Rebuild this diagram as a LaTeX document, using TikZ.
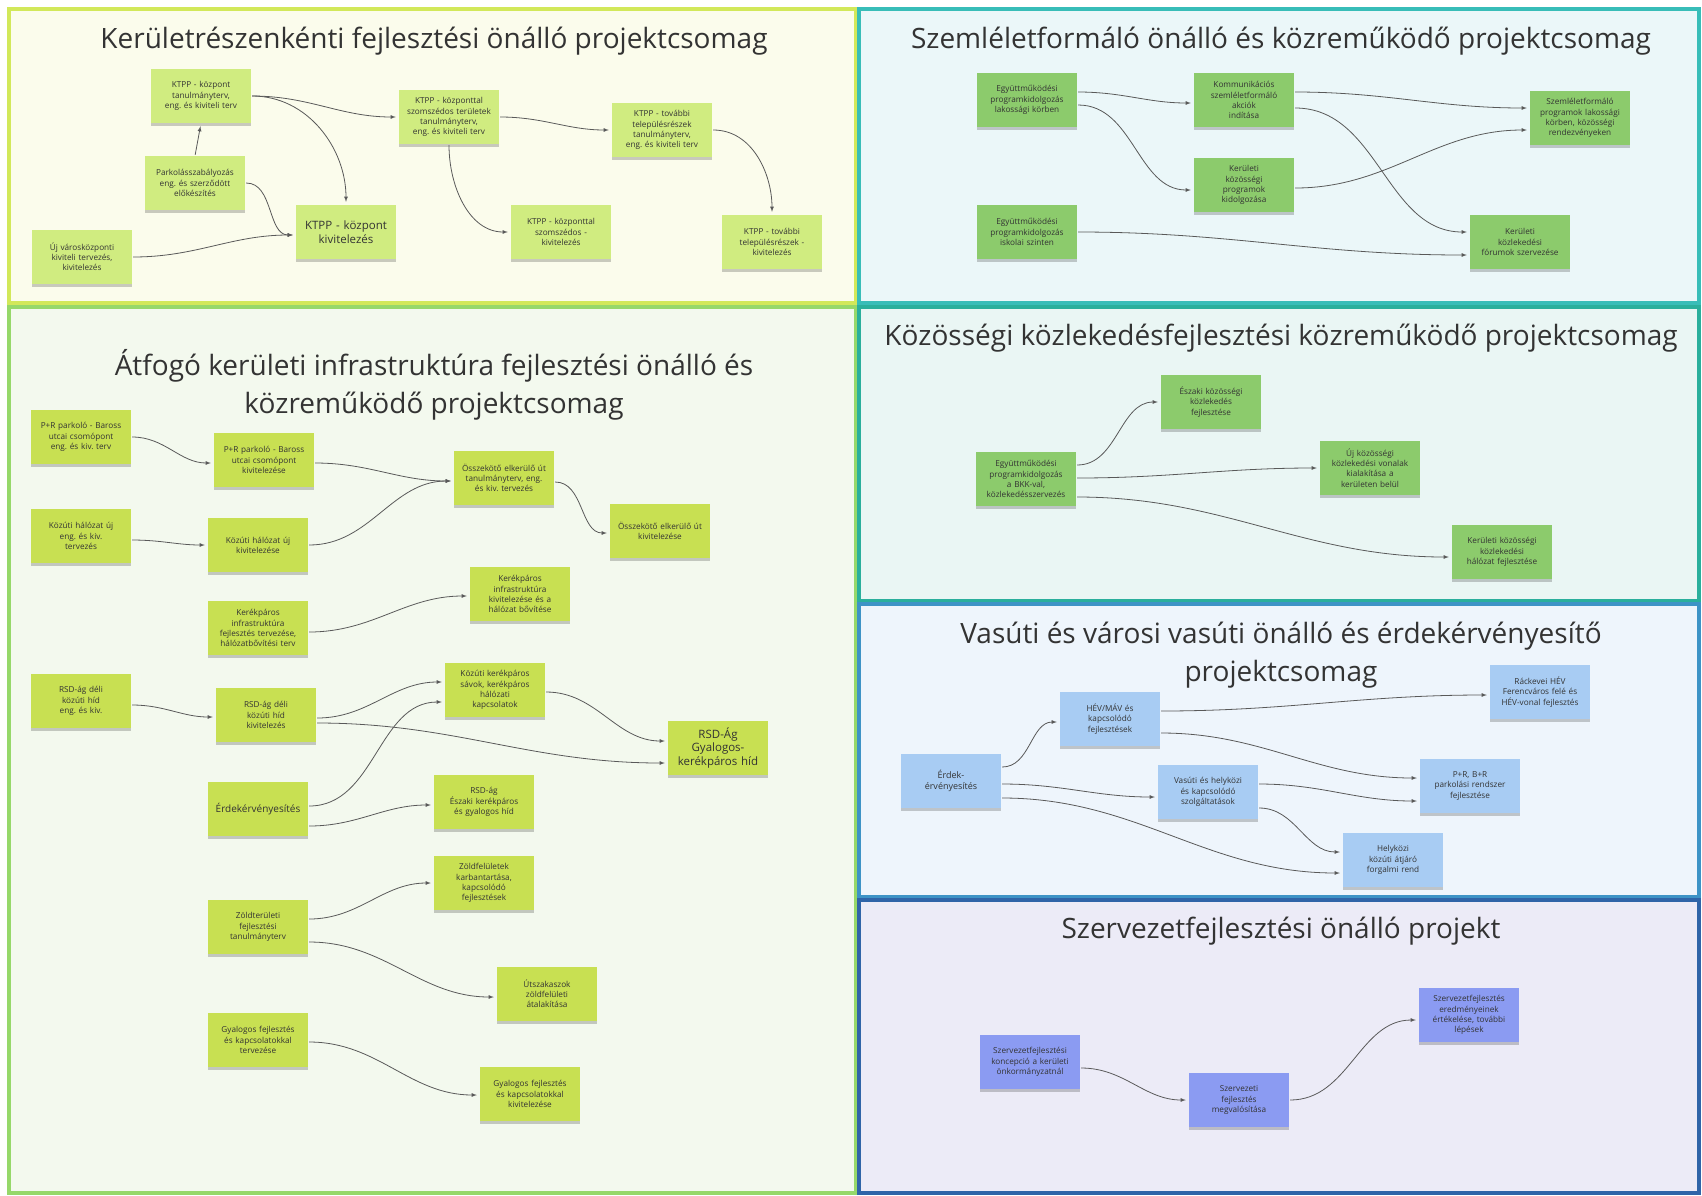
\documentclass[tikz,border=0pt]{standalone}
\usepackage{fontspec}
\setmainfont{Open Sans}
\usetikzlibrary{shadows}
\frenchspacing

%% panel colours
\definecolor{tlfill}{HTML}{FBFCEC}
\definecolor{tlline}{HTML}{D2E85A}
\definecolor{trfill}{HTML}{EBF7F9}
\definecolor{trline}{HTML}{38BDB8}
\definecolor{lfill}{HTML}{F3F9EE}
\definecolor{lline}{HTML}{96D86A}
\definecolor{kfill}{HTML}{EAF6F4}
\definecolor{kline}{HTML}{2AAF9C}
\definecolor{vfill}{HTML}{EEF5FC}
\definecolor{vline}{HTML}{3D93C6}
\definecolor{sfill}{HTML}{ECEBF7}
\definecolor{sline}{HTML}{2F64A8}
%% note colours
\definecolor{tlnote}{HTML}{D0EC80}
\definecolor{lnote}{HTML}{C8E052}
\definecolor{gnote}{HTML}{8CCB6C}
\definecolor{vnote}{HTML}{A8CCF3}
\definecolor{snote}{HTML}{8B9BF2}

\begin{document}
\begin{tikzpicture}[>=latex, x=1pt, y=1pt,
    panel/.style={line width=3.5pt},
    ptitle/.style={font=\fontsize{28}{38}\selectfont, text=black!80, align=center},
    note/.style={rectangle, minimum width=100pt, minimum height=54pt,
        text width=96pt, align=center, inner sep=2pt, text=black!80,
        font=\fontsize{8.2}{10.2}\selectfont,
        drop shadow={shadow xshift=0pt, shadow yshift=-2.5pt, fill=black, opacity=0.2}},
    mid/.style={font=\fontsize{9}{11}\selectfont},
    big/.style={font=\fontsize{11.5}{13.5}\selectfont},
    conn/.style={->, draw=black!65, line width=0.8pt, shorten >=3pt, shorten <=1pt}]

    \useasboundingbox[fill=white] (0,0) rectangle (1702,-1195);

    %% keretek
    \draw[panel, fill=tlfill, draw=tlline] (9,-9) rectangle (856,-303);
    \draw[panel, fill=trfill, draw=trline] (859,-9) rectangle (1699,-303);
    \draw[panel, fill=lfill, draw=lline] (9,-307) rectangle (856,-1193);
    \draw[panel, fill=kfill, draw=kline] (859,-307) rectangle (1699,-601);
    \draw[panel, fill=vfill, draw=vline] (859,-604) rectangle (1699,-897);
    \draw[panel, fill=sfill, draw=sline] (859,-900) rectangle (1699,-1193);

    %% cimek
    \node[ptitle] (tltitle) at (434,-41) {Kerületrészenkénti fejlesztési önálló projektcsomag};
    \node[ptitle] (trtitle) at (1281,-41) {Szemléletformáló önálló és közreműködő projektcsomag};
    \node[ptitle] (ltitle) at (434,-385) {Átfogó kerületi infrastruktúra fejlesztési önálló és\\közreműködő projektcsomag};
    \node[ptitle] (ktitle) at (1281,-338) {Közösségi közlekedésfejlesztési közreműködő projektcsomag};
    \node[ptitle] (vtitle) at (1281,-655) {Vasúti és városi vasúti önálló és érdekérvényesítő\\projektcsomag};
    \node[ptitle] (stitle) at (1281,-931) {Szervezetfejlesztési önálló projekt};

    %% kerületrészenkénti csomag
    \node[note, fill=tlnote] (ktppterv) at (201,-96) {KTPP - központ\\tanulmányterv,\\eng. és kiviteli terv};
    \node[note, fill=tlnote] (parkolas) at (195,-183) {Parkolásszabályozás\\eng. és szerződött\\előkészítés};
    \node[note, fill=tlnote] (ujkozpont) at (82,-257) {Új városközponti\\kiviteli tervezés,\\kivitelezés};
    \node[note, fill=tlnote, big] (ktppkiv) at (346,-232) {KTPP - központ\\kivitelezés};
    \node[note, fill=tlnote] (szomszterv) at (449,-117) {KTPP - központtal\\szomszédos területek\\tanulmányterv,\\eng. és kiviteli terv};
    \node[note, fill=tlnote] (szomszkiv) at (561,-232) {KTPP - központtal\\szomszédos -\\kivitelezés};
    \node[note, fill=tlnote] (tovabbterv) at (662,-130) {KTPP - további\\településrészek\\tanulmányterv,\\eng. és kiviteli terv};
    \node[note, fill=tlnote] (tovabbkiv) at (772,-242) {KTPP - további\\településrészek -\\kivitelezés};

    \draw[conn] (ktppterv.east) to[out=0,in=180] (szomszterv.west);
    \draw[conn] (ktppterv.east) to[out=0,in=90] (ktppkiv.north);
    \draw[conn] (parkolas.north) -- (ktppterv.south);
    \draw[conn] (parkolas.east) to[out=0,in=180] ([yshift=-3pt]ktppkiv.west);
    \draw[conn] (ujkozpont.east) to[out=0,in=180] ([yshift=-3pt]ktppkiv.west);
    \draw[conn] (szomszterv.east) to[out=0,in=180] (tovabbterv.west);
    \draw[conn] (szomszterv.south) to[out=-90,in=180] (szomszkiv.west);
    \draw[conn] (tovabbterv.east) to[out=0,in=90] (tovabbkiv.north);

    %% szemléletformáló csomag
    \node[note, fill=gnote] (egyuttm1) at (1027,-100) {Együttműködési\\programkidolgozás\\lakossági körben};
    \node[note, fill=gnote] (kommunik) at (1244,-100) {Kommunikációs\\szemléletformáló\\akciók\\indítása};
    \node[note, fill=gnote] (kozossprog) at (1244,-185) {Kerületi\\közösségi\\programok\\kidolgozása};
    \node[note, fill=gnote] (szemlelet) at (1580,-118) {Szemléletformáló\\programok lakossági\\körben, közösségi\\rendezvényeken};
    \node[note, fill=gnote] (egyuttm2) at (1027,-232) {Együttműködési\\programkidolgozás\\iskolai szinten};
    \node[note, fill=gnote] (forum) at (1520,-242) {Kerületi\\közlekedési\\fórumok szervezése};

    \draw[conn] ([yshift=8pt]egyuttm1.east) to[out=0,in=180] ([yshift=-3pt]kommunik.west);
    \draw[conn] ([yshift=-5pt]egyuttm1.east) to[out=0,in=180] ([yshift=-5pt]kozossprog.west);
    \draw[conn] ([yshift=8pt]kommunik.east) to[out=0,in=180] ([yshift=10pt]szemlelet.west);
    \draw[conn] ([yshift=-8pt]kommunik.east) to[out=0,in=180] ([yshift=10pt]forum.west);
    \draw[conn] ([yshift=-3pt]kozossprog.east) to[out=0,in=180] ([yshift=-12pt]szemlelet.west);
    \draw[conn] (egyuttm2.east) to[out=0,in=180] ([yshift=-13pt]forum.west);

    %% közösségi közlekedés csomag
    \node[note, fill=gnote] (kkprog) at (1026,-479) {Együttműködési\\programkidolgozás\\a BKK-val,\\közlekedésszervezés};
    \node[note, fill=gnote] (eszaki) at (1211,-402) {Északi közösségi\\közlekedés\\fejlesztése};
    \node[note, fill=gnote] (ujvonal) at (1370,-468) {Új közösségi\\közlekedési vonalak\\kialakítása a\\kerületen belül};
    \node[note, fill=gnote] (kapcsolat) at (1502,-552) {Kerületi közösségi\\közlekedési\\hálózat fejlesztése};

    \draw[conn] ([yshift=14pt]kkprog.east) to[out=0,in=180] (eszaki.west);
    \draw[conn] ([yshift=1pt]kkprog.east) to[out=0,in=180] (ujvonal.west);
    \draw[conn] ([yshift=-18pt]kkprog.east) to[out=0,in=180] ([yshift=-5pt]kapcsolat.west);

    %% vasúti csomag
    \node[note, fill=vnote, mid] (erdek) at (951,-781) {Érdek-\\érvényesítés};
    \node[note, fill=vnote] (hev) at (1110,-719) {HÉV/MÁV és\\kapcsolódó\\fejlesztések};
    \node[note, fill=vnote] (helykozi) at (1208,-792) {Vasúti és helyközi\\és kapcsolódó\\szolgáltatások};
    \node[note, fill=vnote] (ferencv) at (1540,-692) {Ráckevei HÉV\\Ferencváros felé és\\HÉV-vonal fejlesztés};
    \node[note, fill=vnote] (prrend) at (1470,-786) {P+R, B+R\\parkolási rendszer\\fejlesztése};
    \node[note, fill=vnote] (atjaro) at (1393,-860) {Helyközi\\közúti átjáró\\forgalmi rend};

    \draw[conn] ([yshift=14pt]erdek.east) to[out=0,in=180] ([yshift=-3pt]hev.west);
    \draw[conn] ([yshift=-3pt]erdek.east) to[out=0,in=180] ([yshift=-5pt]helykozi.west);
    \draw[conn] ([yshift=-17pt]erdek.east) to[out=0,in=180] ([yshift=-13pt]atjaro.west);
    \draw[conn] ([yshift=8pt]hev.east) to[out=0,in=180] ([yshift=-3pt]ferencv.west);
    \draw[conn] ([yshift=-14pt]hev.east) to[out=0,in=180] ([yshift=8pt]prrend.west);
    \draw[conn] ([yshift=8pt]helykozi.east) to[out=0,in=180] ([yshift=-15pt]prrend.west);
    \draw[conn] ([yshift=-16pt]helykozi.east) to[out=0,in=180] ([yshift=8pt]atjaro.west);

    %% szervezetfejlesztés
    \node[note, fill=snote] (szkoncepcio) at (1030,-1062) {Szervezetfejlesztési\\koncepció a kerületi\\önkormányzatnál};
    \node[note, fill=snote] (szfejl) at (1239,-1100) {Szervezeti\\fejlesztés\\megvalósítása};
    \node[note, fill=snote] (szertekel) at (1469,-1015) {Szervezetfejlesztés\\eredményeinek\\értékelése, további\\lépések};

    \draw[conn] ([yshift=-6pt]szkoncepcio.east) to[out=0,in=180] (szfejl.west);
    \draw[conn] (szfejl.east) to[out=0,in=180] ([yshift=-5pt]szertekel.west);

    %% átfogó infrastruktúra csomag
    \node[note, fill=lnote] (prterv) at (81,-437) {P+R parkoló - Baross\\utcai csomópont\\eng. és kiv. terv};
    \node[note, fill=lnote] (prkiv) at (264,-460) {P+R parkoló - Baross\\utcai csomópont\\kivitelezése};
    \node[note, fill=lnote] (kozutterv) at (81,-536) {Közúti hálózat új\\eng. és kiv.\\tervezés};
    \node[note, fill=lnote] (kozutkiv) at (258,-545) {Közúti hálózat új\\kivitelezése};
    \node[note, fill=lnote] (elkerterv) at (504,-478) {Összekötő elkerülő út\\tanulmányterv, eng.\\és kiv. tervezés};
    \node[note, fill=lnote] (elkerkiv) at (660,-531) {Összekötő elkerülő út\\kivitelezése};
    \node[note, fill=lnote] (kerekterv) at (258,-628) {Kerékpáros\\infrastruktúra\\fejlesztés tervezése,\\hálózatbővítési terv};
    \node[note, fill=lnote] (kerekkiv) at (520,-594) {Kerékpáros\\infrastruktúra\\kivitelezése és a\\hálózat bővítése};
    \node[note, fill=lnote] (hidterv) at (81,-701) {RSD-ág déli\\közúti híd\\eng. és kiv.};
    \node[note, fill=lnote] (hidkiv) at (266,-715) {RSD-ág déli\\közúti híd\\kivitelezés};
    \node[note, fill=lnote] (kerheld) at (495,-690) {Közúti kerékpáros\\sávok, kerékpáros\\hálózati\\kapcsolatok};
    \node[note, fill=lnote, big] (rsdgyal) at (718,-748) {RSD-Ág\\Gyalogos-\\kerékpáros híd};
    \node[note, fill=lnote, font=\fontsize{10}{12}\selectfont] (erdekbal) at (258,-809) {Érdekérvényesítés};
    \node[note, fill=lnote] (rsdeszak) at (484,-802) {RSD-ág\\Északi kerékpáros\\és gyalogos híd};
    \node[note, fill=lnote] (zoldterv) at (258,-927) {Zöldterületi\\fejlesztési\\tanulmányterv};
    \node[note, fill=lnote] (zoldfel) at (484,-883) {Zöldfelületek\\karbantartása,\\kapcsolódó\\fejlesztések};
    \node[note, fill=lnote] (mentesit) at (547,-994) {Útszakaszok\\zöldfelületi\\átalakítása};
    \node[note, fill=lnote] (gyalterv) at (258,-1040) {Gyalogos fejlesztés\\és kapcsolatokkal\\tervezése};
    \node[note, fill=lnote] (gyalkiv) at (530,-1094) {Gyalogos fejlesztés\\és kapcsolatokkal\\kivitelezése};

    \draw[conn] (prterv.east) to[out=0,in=180] ([yshift=-3pt]prkiv.west);
    \draw[conn] ([yshift=-4pt]kozutterv.east) to[out=0,in=180] (kozutkiv.west);
    \draw[conn] ([yshift=-3pt]prkiv.east) to[out=0,in=180] ([yshift=-3pt]elkerterv.west);
    \draw[conn] (kozutkiv.east) to[out=0,in=180] ([yshift=-3pt]elkerterv.west);
    \draw[conn] ([yshift=-4pt]elkerterv.east) to[out=0,in=180] ([yshift=-2pt]elkerkiv.west);
    \draw[conn] ([yshift=-4pt]kerekterv.east) to[out=0,in=180] ([yshift=-2pt]kerekkiv.west);
    \draw[conn] ([yshift=-4pt]hidterv.east) to[out=0,in=180] ([yshift=-2pt]hidkiv.west);
    \draw[conn] ([yshift=-3pt]hidkiv.east) to[out=0,in=180] ([yshift=8pt]kerheld.west);
    \draw[conn] ([yshift=-8pt]hidkiv.east) to[out=0,in=180] ([yshift=-15pt]rsdgyal.west);
    \draw[conn] ([yshift=3pt]erdekbal.east) to[out=0,in=180] ([yshift=-12pt]kerheld.west);
    \draw[conn] ([yshift=-17pt]erdekbal.east) to[out=0,in=180] ([yshift=-3pt]rsdeszak.west);
    \draw[conn] ([yshift=-2pt]kerheld.east) to[out=0,in=180] ([yshift=7pt]rsdgyal.west);
    \draw[conn] ([yshift=8pt]zoldterv.east) to[out=0,in=180] (zoldfel.west);
    \draw[conn] ([yshift=-15pt]zoldterv.east) to[out=0,in=180] ([yshift=-3pt]mentesit.west);
    \draw[conn] ([yshift=-2pt]gyalterv.east) to[out=0,in=180] ([yshift=-1pt]gyalkiv.west);
\end{tikzpicture}
\end{document}
